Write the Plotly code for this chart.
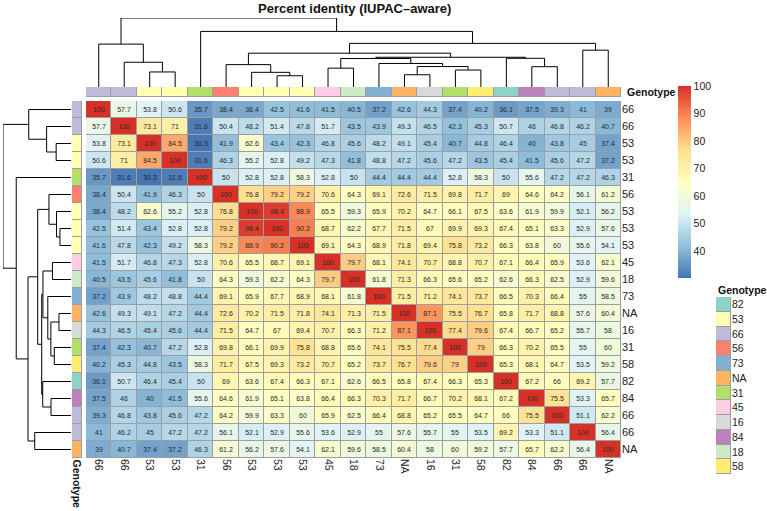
import numpy as np
import plotly.graph_objects as go

# ---------------- data ----------------
title = "Percent identity (IUPAC\u2013aware)"
genotype = ["66", "66", "53", "53", "31", "56", "53", "53", "53", "45", "18",
            "73", "NA", "16", "31", "58", "82", "84", "66", "66", "NA"]

identity = [
    [100, 57.7, 53.8, 50.6, 35.7, 38.4, 38.4, 42.5, 41.6, 41.5, 40.5, 37.2, 42.6, 44.3, 37.4, 40.2, 36.1, 37.5, 39.3, 41, 39],
    [57.7, 100, 73.1, 71, 31.6, 50.4, 48.2, 51.4, 47.8, 51.7, 43.5, 43.9, 49.3, 46.5, 42.3, 45.3, 50.7, 46, 46.8, 46.2, 40.7],
    [53.8, 73.1, 100, 84.5, 30.3, 41.9, 62.6, 43.4, 42.3, 46.8, 45.6, 48.2, 49.1, 45.4, 40.7, 44.8, 46.4, 40, 43.8, 45, 37.4],
    [50.6, 71, 84.5, 100, 31.6, 46.3, 55.2, 52.8, 49.2, 47.3, 41.8, 48.8, 47.2, 45.6, 47.2, 43.5, 45.4, 41.5, 45.6, 47.2, 37.2],
    [35.7, 31.6, 30.3, 31.6, 100, 50, 52.8, 52.8, 58.3, 52.8, 50, 44.4, 44.4, 44.4, 52.8, 58.3, 50, 55.6, 47.2, 47.2, 46.3],
    [38.4, 50.4, 41.9, 46.3, 50, 100, 76.8, 79.2, 79.2, 70.6, 64.3, 69.1, 72.6, 71.5, 69.8, 71.7, 69, 64.6, 64.2, 56.1, 61.2],
    [38.4, 48.2, 62.6, 55.2, 52.8, 76.8, 100, 98.4, 88.9, 65.5, 59.3, 65.9, 70.2, 64.7, 66.1, 67.5, 63.6, 61.9, 59.9, 52.1, 56.2],
    [42.5, 51.4, 43.4, 52.8, 52.8, 79.2, 98.4, 100, 90.2, 68.7, 62.2, 67.7, 71.5, 67, 69.9, 69.3, 67.4, 65.1, 63.3, 52.9, 57.6],
    [41.6, 47.8, 42.3, 49.2, 58.3, 79.2, 88.9, 90.2, 100, 69.1, 64.3, 68.9, 71.8, 69.4, 75.8, 73.2, 66.3, 63.8, 60, 55.6, 54.1],
    [41.5, 51.7, 46.8, 47.3, 52.8, 70.6, 65.5, 68.7, 69.1, 100, 79.7, 68.1, 74.1, 70.7, 68.8, 70.7, 67.1, 66.4, 65.9, 53.6, 62.1],
    [40.5, 43.5, 45.6, 41.8, 50, 64.3, 59.3, 62.2, 64.3, 79.7, 100, 61.8, 71.3, 66.3, 65.6, 65.2, 62.6, 66.3, 62.5, 52.9, 59.6],
    [37.2, 43.9, 48.2, 48.8, 44.4, 69.1, 65.9, 67.7, 68.9, 68.1, 61.8, 100, 71.5, 71.2, 74.1, 73.7, 66.5, 70.3, 66.4, 55, 58.5],
    [42.6, 49.3, 49.1, 47.2, 44.4, 72.6, 70.2, 71.5, 71.8, 74.1, 71.3, 71.5, 100, 87.1, 75.5, 76.7, 65.8, 71.7, 68.8, 57.6, 60.4],
    [44.3, 46.5, 45.4, 45.6, 44.4, 71.5, 64.7, 67, 69.4, 70.7, 66.3, 71.2, 87.1, 100, 77.4, 79.6, 67.4, 66.7, 65.2, 55.7, 58],
    [37.4, 42.3, 40.7, 47.2, 52.8, 69.8, 66.1, 69.9, 75.8, 68.8, 65.6, 74.1, 75.5, 77.4, 100, 79, 66.3, 70.2, 65.5, 55, 60],
    [40.2, 45.3, 44.8, 43.5, 58.3, 71.7, 67.5, 69.3, 73.2, 70.7, 65.2, 73.7, 76.7, 79.6, 79, 100, 65.3, 68.1, 64.7, 53.5, 59.2],
    [36.1, 50.7, 46.4, 45.4, 50, 69, 63.6, 67.4, 66.3, 67.1, 62.6, 66.5, 65.8, 67.4, 66.3, 65.3, 100, 67.2, 66, 69.2, 57.7],
    [37.5, 46, 40, 41.5, 55.6, 64.6, 61.9, 65.1, 63.8, 66.4, 66.3, 70.3, 71.7, 66.7, 70.2, 68.1, 67.2, 100, 75.5, 53.3, 65.7],
    [39.3, 46.8, 43.8, 45.6, 47.2, 64.2, 59.9, 63.3, 60, 65.9, 62.5, 66.4, 68.8, 65.2, 65.5, 64.7, 66, 75.5, 100, 51.1, 62.2],
    [41, 46.2, 45, 47.2, 47.2, 56.1, 52.1, 52.9, 55.6, 53.6, 52.9, 55, 57.6, 55.7, 55, 53.5, 69.2, 53.3, 51.1, 100, 56.4],
    [39, 40.7, 37.4, 37.2, 46.3, 61.2, 56.2, 57.6, 54.1, 62.1, 59.6, 58.5, 60.4, 58, 60, 59.2, 57.7, 65.7, 62.2, 56.4, 100],
]

legend_labels = ["82", "53", "66", "56", "73", "NA", "31", "45", "16", "84", "18", "58"]
legend_colors = ["#8DD3C7", "#FFFFB3", "#BEBADA", "#FB8072", "#80B1D3", "#FDB462",
                 "#B3DE69", "#FCCDE5", "#D9D9D9", "#BC80BD", "#CCEBC5", "#FFED6F"]
ramp_colors = ["#4575B4", "#91BFDB", "#E0F3F8", "#FFFFBF", "#FEE090", "#FC8D59", "#D73027"]
colorbar_ticks = [40, 50, 60, 70, 80, 90, 100]

# ---------------- helpers ----------------
W, H = 767, 511
FONT = "Liberation Sans, Arial, Helvetica, sans-serif"
GRID = "#9E9E9E"
TXT = "#222222"


def dx(a, b):
    return [a / W, b / W]


def dy(top, bottom):
    return [1 - bottom / H, 1 - top / H]


M = np.array(identity, dtype=float)
n = M.shape[0]
idx = list(range(n))

# hierarchical clustering of rows: euclidean distance, average linkage
D = np.sqrt(((M[:, None, :] - M[None, :, :]) ** 2).sum(-1))
clusters = {i: [i] for i in range(n)}
pos = {i: float(i) for i in range(n)}
hgt = {i: 0.0 for i in range(n)}
segs = []
nid = n
while len(clusters) > 1:
    keys = sorted(clusters)
    best = None
    for a in range(len(keys)):
        for b in range(a + 1, len(keys)):
            d = D[np.ix_(clusters[keys[a]], clusters[keys[b]])].mean()
            if best is None or d < best[0] - 1e-12:
                best = (d, keys[a], keys[b])
    d, a, b = best
    segs.append(((pos[a], hgt[a]), (pos[a], d), (pos[b], d), (pos[b], hgt[b])))
    clusters[nid] = clusters.pop(a) + clusters.pop(b)
    pos[nid] = (pos[a] + pos[b]) / 2
    hgt[nid] = d
    nid += 1
maxh = max(hgt.values())

dx_line, dy_line = [], []
for s in segs:
    for p in s:
        dx_line.append(p[0])
        dy_line.append(p[1])
    dx_line.append(None)
    dy_line.append(None)

cmap = [[i / (len(ramp_colors) - 1), c] for i, c in enumerate(ramp_colors)]
k = len(legend_labels)
cat_scale = []
for i, c in enumerate(legend_colors):
    cat_scale.append([i / k, c])
    cat_scale.append([(i + 1) / k, c])
grey_scale = [[0, GRID], [1, GRID]]

annot_codes = [legend_labels.index(g) for g in genotype]
cell_text = [[f"{v:g}" for v in row] for row in identity]

fig = go.Figure()

# main heatmap (grey underlay shows through the cell gaps as borders)
fig.add_trace(go.Heatmap(z=np.zeros((n, n)), x=idx, y=idx, colorscale=grey_scale,
                         showscale=False, hoverinfo="skip", xaxis="x", yaxis="y"))
fig.add_trace(go.Heatmap(
    z=M, x=idx, y=idx, colorscale=cmap, zmin=M.min(), zmax=M.max(),
    xgap=1, ygap=1, text=cell_text, texttemplate="%{text}",
    textfont=dict(size=7, color="#2a2a2a", family=FONT),
    xaxis="x", yaxis="y",
    colorbar=dict(x=678 / W, xanchor="left", y=1 - 278 / H, yanchor="bottom",
                  len=(278 - 86) / H, lenmode="fraction", thickness=13,
                  outlinewidth=0, ticks="", tickvals=colorbar_ticks,
                  tickfont=dict(size=10.5, color=TXT, family=FONT), ypad=0, xpad=0),
))

# top annotation
fig.add_trace(go.Heatmap(z=[[0] * n], x=idx, y=[0], colorscale=grey_scale,
                         showscale=False, hoverinfo="skip", xaxis="x2", yaxis="y2"))
fig.add_trace(go.Heatmap(z=[annot_codes], x=idx, y=[0], colorscale=cat_scale,
                         zmin=-0.5, zmax=k - 0.5, showscale=False, xgap=1, ygap=1,
                         xaxis="x2", yaxis="y2"))

# left annotation
fig.add_trace(go.Heatmap(z=[[0] for _ in idx], x=[0], y=idx, colorscale=grey_scale,
                         showscale=False, hoverinfo="skip", xaxis="x3", yaxis="y3"))
fig.add_trace(go.Heatmap(z=[[c] for c in annot_codes], x=[0], y=idx, colorscale=cat_scale,
                         zmin=-0.5, zmax=k - 0.5, showscale=False, xgap=1, ygap=1,
                         xaxis="x3", yaxis="y3"))

# dendrograms
fig.add_trace(go.Scatter(x=dx_line, y=dy_line, mode="lines",
                         line=dict(color="black", width=1), hoverinfo="skip",
                         xaxis="x4", yaxis="y4", showlegend=False))
fig.add_trace(go.Scatter(x=dy_line, y=dx_line, mode="lines",
                         line=dict(color="black", width=1), hoverinfo="skip",
                         xaxis="x5", yaxis="y5", showlegend=False))

# genotype legend
lidx = list(range(k))
fig.add_trace(go.Heatmap(z=[[0] for _ in lidx], x=[0], y=lidx, colorscale=grey_scale,
                         showscale=False, hoverinfo="skip", xaxis="x6", yaxis="y6"))
fig.add_trace(go.Heatmap(z=[[i] for i in lidx], x=[0], y=lidx, colorscale=cat_scale,
                         zmin=-0.5, zmax=k - 0.5, showscale=False, xgap=1, ygap=1,
                         xaxis="x6", yaxis="y6"))

hidden = dict(showgrid=False, zeroline=False, showticklabels=False, ticks="", showline=False)

fig.update_layout(
    width=W, height=H, margin=dict(l=0, r=0, t=0, b=0),
    paper_bgcolor="white", plot_bgcolor="white", showlegend=False,
    font=dict(family=FONT, color=TXT),
    xaxis=dict(domain=dx(86, 621), range=[-0.5, n - 0.5], showgrid=False, zeroline=False,
               tickmode="array", tickvals=idx, ticktext=genotype, tickangle=90,
               ticks="", tickfont=dict(size=10.5, color=TXT), anchor="y"),
    yaxis=dict(domain=dy(101, 458), range=[n - 0.5, -0.5], showgrid=False, zeroline=False,
               tickmode="array", tickvals=idx, ticktext=genotype, side="right",
               ticks="", tickfont=dict(size=11, color=TXT), anchor="x"),
    xaxis2=dict(domain=dx(86, 621), range=[-0.5, n - 0.5], anchor="y2", **hidden),
    yaxis2=dict(domain=dy(87, 97), range=[-0.5, 0.5], anchor="x2", **hidden),
    xaxis3=dict(domain=dx(72, 82), range=[-0.5, 0.5], anchor="y3", **hidden),
    yaxis3=dict(domain=dy(101, 458), range=[n - 0.5, -0.5], anchor="x3", **hidden),
    xaxis4=dict(domain=dx(86, 621), range=[-0.5, n - 0.5], anchor="y4", **hidden),
    yaxis4=dict(domain=dy(18, 87), range=[0, maxh], anchor="x4", **hidden),
    xaxis5=dict(domain=dx(3, 71), range=[maxh, 0], anchor="y5", **hidden),
    yaxis5=dict(domain=dy(101, 458), range=[n - 0.5, -0.5], anchor="x5", **hidden),
    xaxis6=dict(domain=dx(716, 731), range=[-0.5, 0.5], anchor="y6", **hidden),
    yaxis6=dict(domain=dy(297, 474), range=[k - 0.5, -0.5], anchor="x6",
                showgrid=False, zeroline=False, tickmode="array", tickvals=lidx,
                ticktext=legend_labels, side="right", ticks="",
                tickfont=dict(size=10.5, color=TXT)),
)

fig.add_annotation(text="<b>" + title + "</b>", x=354 / W, y=1 - 9 / H, xref="paper",
                   yref="paper", xanchor="center", yanchor="middle", showarrow=False,
                   font=dict(size=13, color="#111111"))
fig.add_annotation(text="<b>Genotype</b>", x=625 / W, y=1 - 92 / H, xref="paper",
                   yref="paper", xanchor="left", yanchor="middle", showarrow=False,
                   font=dict(size=10.5, color="#111111"))
fig.add_annotation(text="<b>Genotype</b>", x=76.5 / W, y=1 - 484 / H, xref="paper",
                   yref="paper", xanchor="center", yanchor="middle", showarrow=False,
                   textangle=90, font=dict(size=10.5, color="#111111"))
fig.add_annotation(text="<b>Genotype</b>", x=716 / W, y=1 - 290 / H, xref="paper",
                   yref="paper", xanchor="left", yanchor="middle", showarrow=False,
                   font=dict(size=10.5, color="#111111"))

fig.write_html("out.html")
